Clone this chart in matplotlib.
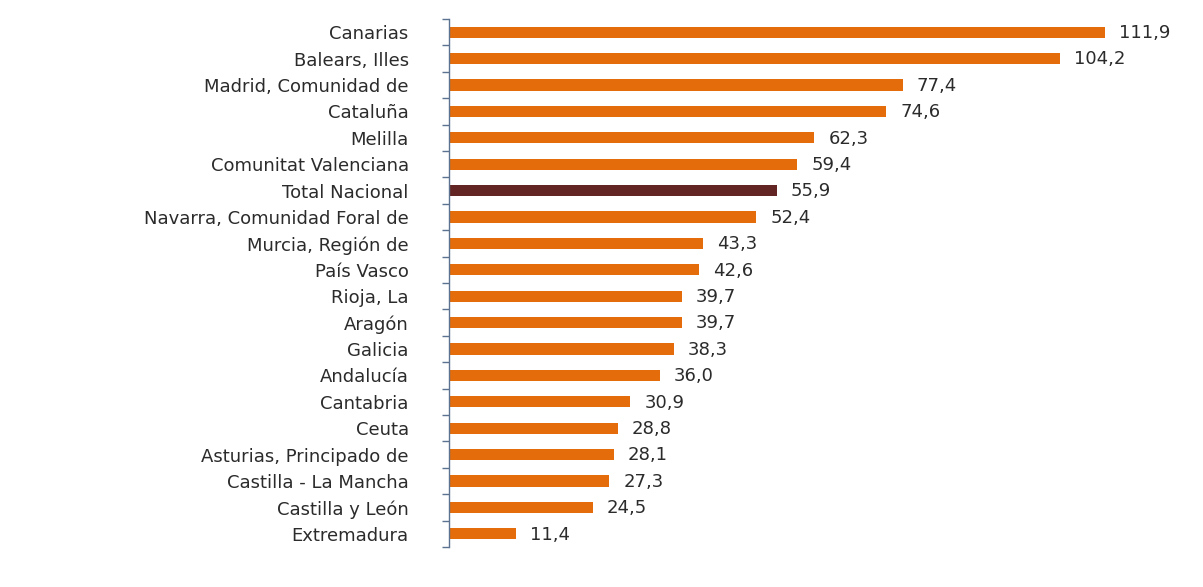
import matplotlib
matplotlib.use("Agg")
import matplotlib.pyplot as plt
import numpy as np

plt.rcParams['font.family'] = ['DejaVu Sans']

regions = ["Canarias", "Balears, Illes", "Madrid, Comunidad de", "Cataluña", "Melilla",
           "Comunitat Valenciana", "Total Nacional", "Navarra, Comunidad Foral de",
           "Murcia, Región de", "País Vasco", "Rioja, La", "Aragón", "Galicia",
           "Andalucía", "Cantabria", "Ceuta", "Asturias, Principado de",
           "Castilla - La Mancha", "Castilla y León", "Extremadura"]
values = [111.9, 104.2, 77.4, 74.6, 62.3, 59.4, 55.9, 52.4, 43.3, 42.6, 39.7, 39.7,
          38.3, 36.0, 30.9, 28.8, 28.1, 27.3, 24.5, 11.4]

orange = "#E46C0A"
dark = "#632523"
colors = [dark if r == "Total Nacional" else orange for r in regions]

fig = plt.figure(figsize=(12.03, 5.87), dpi=100)
ax = fig.add_axes([449 / 1203, 40 / 587, 754 / 1203, 528 / 587])

y = np.arange(len(regions))
ax.barh(y, values, height=0.42, color=colors)
ax.set_ylim(len(regions) - 0.5, -0.5)
ax.set_xlim(0, 128.6)

# value labels with comma decimal
for yi, v in zip(y, values):
    ax.text(v + 2.4, yi + 0.03, f"{v:.1f}".replace(".", ","), va="center", ha="left",
            fontsize=13, color="#2b2b2b")

ax.set_yticks(y)
ax.set_yticklabels(regions, fontsize=13, color="#2b2b2b")
ax.set_yticks(np.arange(len(regions) + 1) - 0.5, minor=True)
ax.tick_params(axis="y", which="major", length=0, pad=29)
ax.tick_params(axis="y", which="minor", length=5, color="#5b7290", width=1)
ax.set_xticks([])
for s in ["top", "right", "bottom"]:
    ax.spines[s].set_visible(False)
ax.spines["left"].set_color("#5b7290")
ax.spines["left"].set_linewidth(1)

fig.savefig("out.png", dpi=100)
